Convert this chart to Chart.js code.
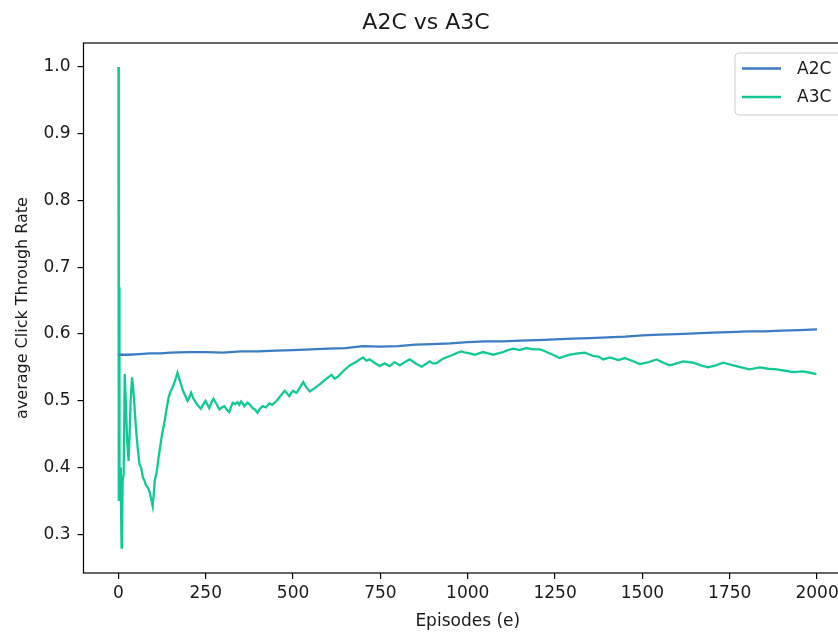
<!DOCTYPE html>
<html>
<head>
<meta charset="utf-8">
<title>A2C vs A3C</title>
<script src="https://cdn.jsdelivr.net/npm/chart.js@4.4.1/dist/chart.umd.min.js"></script>
<style>
  html, body { margin: 0; padding: 0; background: #fff; overflow: hidden; width: 838px; height: 632px; }
  #wrap { width: 860px; height: 632px; }
</style>
</head>
<body>
<div id="wrap"><canvas id="ctrChart" width="860" height="632"></canvas></div>
<script>
// dados
const xTicks = [0, 250, 500, 750, 1000, 1250, 1500, 1750, 2000]
const yTicks = [0.3, 0.4, 0.5, 0.6, 0.7, 0.8, 0.9, 1.0]

const a2cEpisodes = [0, 30, 60, 90, 120, 150, 200, 250, 300, 350,
    400, 450, 500, 550, 600, 650, 700, 750, 800, 850,
    900, 950, 1000, 1050, 1100, 1150, 1200, 1250, 1300, 1350,
    1400, 1450, 1500, 1550, 1600, 1650, 1700, 1750, 1800, 1850,
    1900, 1950, 2000]
const a2cValues = [0.569, 0.569, 0.570, 0.571, 0.571, 0.572, 0.573, 0.573, 0.572, 0.574,
    0.574, 0.575, 0.576, 0.577, 0.578, 0.579, 0.582, 0.581, 0.582, 0.584,
    0.585, 0.586, 0.588, 0.589, 0.589, 0.590, 0.591, 0.592, 0.593, 0.594,
    0.595, 0.596, 0.598, 0.599, 0.600, 0.601, 0.602, 0.603, 0.604, 0.604,
    0.605, 0.606, 0.607]

const a3cEpisodes = [0, 1, 2, 3, 5, 7, 9, 10, 12, 15,
    18, 21, 25, 29, 32, 35, 39, 42, 45, 50,
    55, 60, 65, 70, 75, 79, 84, 89, 94, 98,
    101, 104, 110, 115, 119, 125, 131, 137, 144, 150,
    155, 162, 169, 176, 184, 191, 198, 203, 208, 215,
    222, 229, 236, 242, 249, 255, 260, 266, 272, 280,
    289, 296, 303, 310, 317, 322, 327, 334, 341, 346,
    351, 356, 360, 365, 370, 377, 384, 391, 398, 405,
    413, 422, 432, 440, 453, 465, 476, 483, 489, 495,
    500, 505, 510, 520, 529, 538, 548, 562, 577, 593,
    610, 619, 630, 645, 662, 680, 700, 710, 719, 733,
    748, 762, 776, 791, 805, 820, 834, 851, 868, 880,
    891, 900, 910, 920, 929, 943, 958, 970, 982, 994,
    1006, 1020, 1032, 1044, 1058, 1073, 1087, 1101, 1115, 1130,
    1149, 1168, 1187, 1206, 1218, 1230, 1244, 1263, 1278, 1293,
    1315, 1336, 1350, 1360, 1375, 1388, 1407, 1431, 1450, 1470,
    1493, 1512, 1541, 1560, 1579, 1598, 1617, 1646, 1667, 1688,
    1710, 1731, 1760, 1783, 1807, 1836, 1860, 1884, 1908, 1932,
    1960, 1980, 1998]
const a3cValues = [1.00, 0.35, 0.67, 0.37, 0.40, 0.36, 0.28, 0.29, 0.38, 0.39,
    0.54, 0.50, 0.44, 0.41, 0.45, 0.50, 0.535, 0.52, 0.50, 0.46,
    0.43, 0.405, 0.40, 0.385, 0.38, 0.373, 0.37, 0.364, 0.352, 0.342,
    0.36, 0.38, 0.395, 0.415, 0.43, 0.45, 0.466, 0.485, 0.506, 0.515,
    0.52, 0.53, 0.542, 0.53, 0.516, 0.508, 0.50, 0.505, 0.512, 0.503,
    0.497, 0.492, 0.488, 0.494, 0.50, 0.494, 0.489, 0.497, 0.503, 0.496,
    0.487, 0.49, 0.492, 0.487, 0.483, 0.49, 0.497, 0.495, 0.498, 0.494,
    0.499, 0.496, 0.492, 0.495, 0.497, 0.494, 0.489, 0.487, 0.482, 0.488,
    0.492, 0.49, 0.496, 0.494, 0.50, 0.508, 0.515, 0.511, 0.507, 0.512,
    0.515, 0.513, 0.512, 0.52, 0.528, 0.52, 0.514, 0.519, 0.525, 0.532,
    0.539, 0.533, 0.537, 0.545, 0.553, 0.558, 0.565, 0.56, 0.562, 0.557,
    0.552, 0.556, 0.552, 0.558, 0.553, 0.558, 0.562, 0.556, 0.551, 0.555,
    0.559, 0.556, 0.556, 0.56, 0.563, 0.566, 0.569, 0.572, 0.574, 0.572,
    0.571, 0.569, 0.571, 0.573, 0.571, 0.569, 0.571, 0.573, 0.576, 0.578,
    0.576, 0.579, 0.577, 0.577, 0.575, 0.572, 0.569, 0.564, 0.567, 0.569,
    0.571, 0.572, 0.569, 0.567, 0.566, 0.562, 0.565, 0.561, 0.564, 0.56,
    0.555, 0.557, 0.562, 0.557, 0.553, 0.556, 0.559, 0.557, 0.553, 0.55,
    0.553, 0.557, 0.553, 0.55, 0.547, 0.55, 0.548, 0.547, 0.545, 0.543,
    0.544, 0.542, 0.540]

const corA2C = '#3a7dc2'
const corA3C = '#12c995'

function toPoints(xs, ys) {
    return xs.map((x, i) => ({ x: x, y: ys[i] }))
}

// caixa em volta da area do grafico + legenda dentro do grafico (estilo matplotlib)
const frameAndLegend = {
    id: 'frameAndLegend',
    afterDraw(chart) {
        const ctx = chart.ctx
        const ca = chart.chartArea
        ctx.save()
        ctx.strokeStyle = '#000'
        ctx.lineWidth = 1.2
        ctx.strokeRect(ca.left, ca.top, ca.right - ca.left, ca.bottom - ca.top)

        // legenda
        const bx = ca.right - 117, by = ca.top + 10, bw = 112, bh = 62
        ctx.beginPath()
        ctx.roundRect(bx, by, bw, bh, 4)
        ctx.fillStyle = 'rgba(255,255,255,0.8)'
        ctx.fill()
        ctx.strokeStyle = '#cccccc'
        ctx.lineWidth = 1
        ctx.stroke()

        ctx.font = '17px "DejaVu Sans"'
        ctx.textBaseline = 'middle'
        ctx.textAlign = 'left'
        chart.data.datasets.forEach((ds, i) => {
            const ly = by + 15.5 + i * 28.5
            ctx.beginPath()
            ctx.moveTo(bx + 7, ly)
            ctx.lineTo(bx + 46, ly)
            ctx.strokeStyle = ds.borderColor
            ctx.lineWidth = 2.4
            ctx.stroke()
            ctx.fillStyle = '#1a1a1a'
            ctx.fillText(ds.label, bx + 62, ly + 1)
        })
        ctx.restore()
    }
}

Chart.defaults.font.family = '"DejaVu Sans", sans-serif'
Chart.defaults.color = '#1a1a1a'

const ctx = document.getElementById('ctrChart').getContext('2d')
const ctrChart = new Chart(ctx, {
    type: 'line',
    data: {
        datasets: [{
            label: 'A2C',
            data: toPoints(a2cEpisodes, a2cValues),
            borderColor: corA2C,
            borderWidth: 2.3,
            pointRadius: 0,
            tension: 0,
            fill: false
        }, {
            label: 'A3C',
            data: toPoints(a3cEpisodes, a3cValues),
            borderColor: corA3C,
            borderWidth: 2.3,
            pointRadius: 0,
            tension: 0,
            fill: false
        }]
    },
    options: {
        responsive: false,
        animation: false,
        devicePixelRatio: 1,
        layout: { padding: { left: 0, right: 8, top: 0, bottom: 0 } },
        plugins: {
            legend: { display: false },
            tooltip: { enabled: false },
            title: {
                display: true,
                text: 'A2C vs A3C',
                color: '#1a1a1a',
                font: { size: 22, weight: 'normal' },
                padding: { top: 10, bottom: 6.6 }
            }
        },
        scales: {
            x: {
                type: 'linear',
                min: -100,
                max: 2100,
                afterBuildTicks: axis => { axis.ticks = xTicks.map(v => ({ value: v })) },
                afterFit: axis => { axis.height = 59 },
                ticks: {
                    font: { size: 17 },
                    color: '#1a1a1a',
                    padding: 4,
                    maxRotation: 0,
                    autoSkip: false,
                    callback: v => String(v)
                },
                grid: { drawOnChartArea: false, drawTicks: true, tickLength: 6, color: '#000', lineWidth: 1.2 },
                border: { display: false },
                title: {
                    display: true,
                    text: 'Episodes (e)',
                    color: '#1a1a1a',
                    font: { size: 17 },
                    padding: { top: 1, bottom: 0 }
                }
            },
            y: {
                type: 'linear',
                min: 0.242,
                max: 1.036,
                afterBuildTicks: axis => { axis.ticks = yTicks.map(v => ({ value: v })) },
                afterFit: axis => { axis.width = 83.5 },
                ticks: {
                    font: { size: 17 },
                    color: '#1a1a1a',
                    padding: 7,
                    autoSkip: false,
                    callback: v => v.toFixed(1)
                },
                grid: { drawOnChartArea: false, drawTicks: true, tickLength: 6, color: '#000', lineWidth: 1.2 },
                border: { display: false },
                title: {
                    display: true,
                    text: 'average Click Through Rate',
                    color: '#1a1a1a',
                    font: { size: 16 },
                    padding: { top: 13, bottom: 0 }
                }
            }
        }
    },
    plugins: [frameAndLegend]
})
</script>
</body>
</html>
